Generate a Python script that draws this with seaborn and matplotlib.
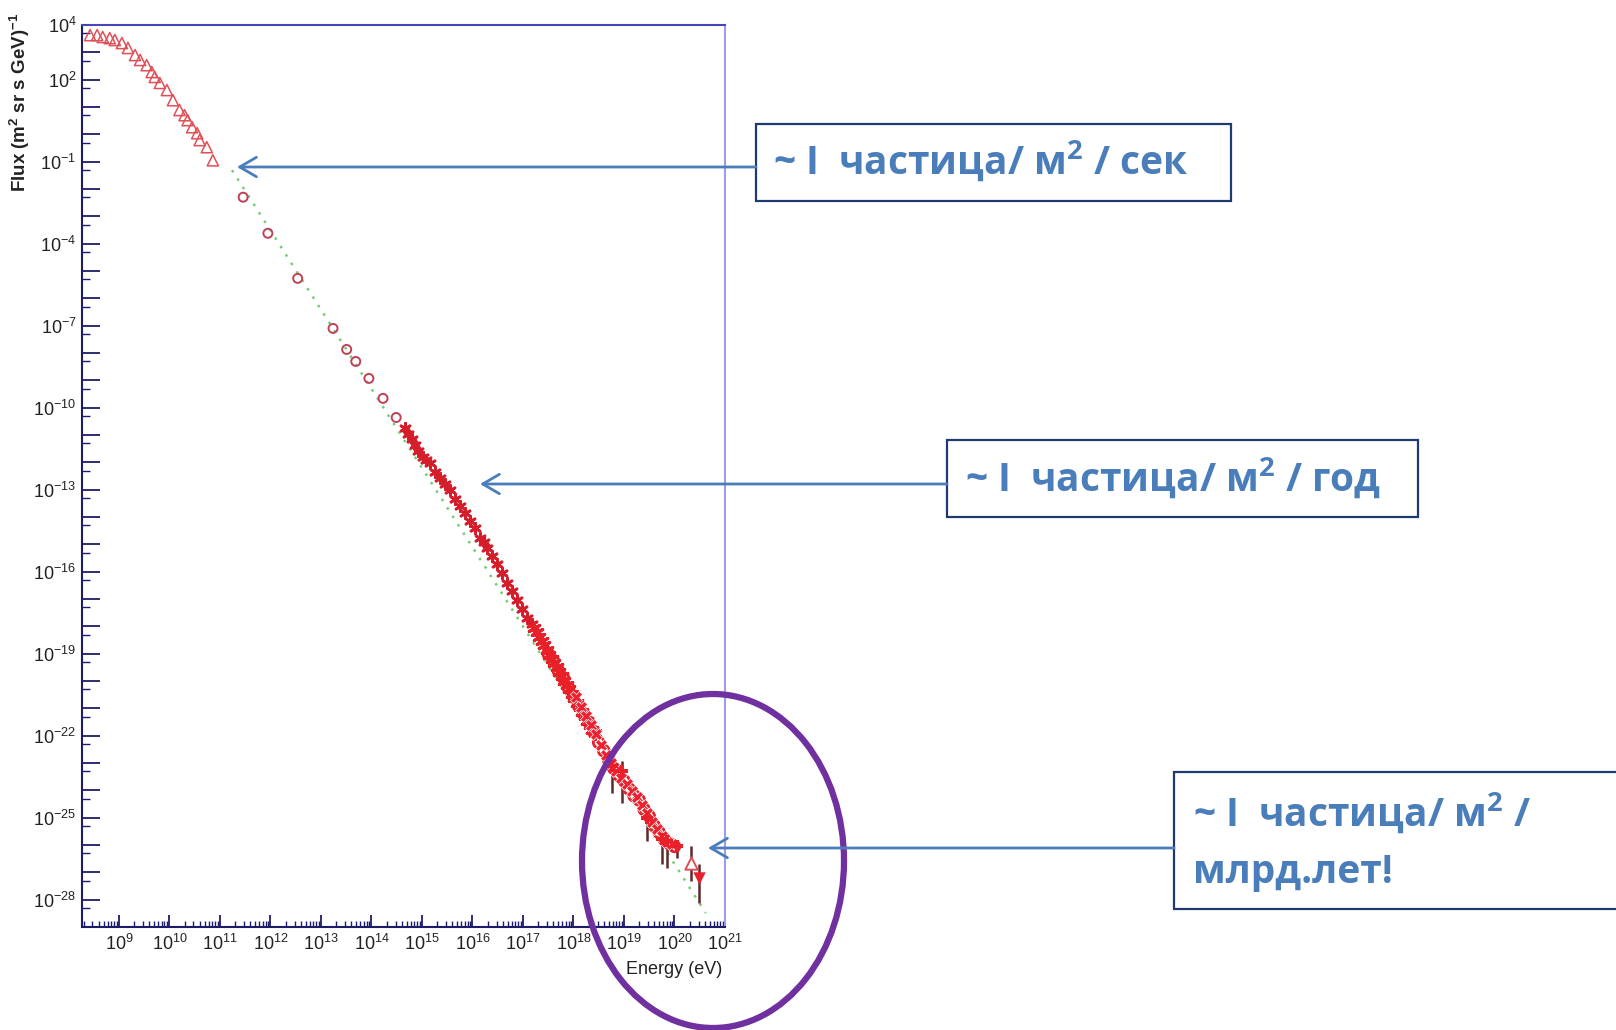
import numpy as np
import pandas as pd
import matplotlib
matplotlib.use("Agg")
import matplotlib.pyplot as plt
import seaborn as sns
from matplotlib.patches import Rectangle, Ellipse
from matplotlib.ticker import FixedLocator, FixedFormatter, LogLocator, NullFormatter

# ---- cosmic-ray spectrum data (log10 of energy in eV, log10 of flux) ----
tri_log_e = [8.43, 8.57, 8.68, 8.82, 8.92, 9.06, 9.18, 9.32, 9.42, 9.55, 9.65, 9.71,
             9.81, 9.95, 10.07, 10.20, 10.30, 10.36, 10.45, 10.55, 10.60, 10.74, 10.86]
tri_log_f = [3.63, 3.63, 3.56, 3.52, 3.45, 3.34, 3.16, 2.90, 2.72, 2.53, 2.28, 2.10,
             1.88, 1.62, 1.25, 0.89, 0.70, 0.52, 0.26, 0.04, -0.21, -0.47, -0.95]

circ_log_e = [11.46, 11.95, 12.54, 13.24, 13.51, 13.69, 13.95, 14.23, 14.49]
circ_log_f = [-2.30, -3.62, -5.27, -7.10, -7.87, -8.31, -8.93, -9.66, -10.36]

knee_log_e = [14.66, 14.73, 14.80, 14.86, 14.92, 15.02, 15.09, 15.16, 15.26, 15.36, 15.46,
              15.55, 15.65, 15.75, 15.85, 15.95, 16.05, 16.15, 16.22, 16.29, 16.39, 16.49,
              16.58, 16.68, 16.78, 16.88, 16.98, 17.08, 17.18]
knee_log_f = [-10.76, -10.95, -11.13, -11.35, -11.57, -11.82, -11.92, -12.04, -12.37, -12.56,
              -12.78, -13.03, -13.33, -13.58, -13.84, -14.13, -14.39, -14.75, -14.93, -15.12,
              -15.41, -15.71, -16.04, -16.40, -16.70, -17.03, -17.36, -17.68, -17.90]

ankle_a_log_e = [17.22, 17.27, 17.32, 17.37, 17.42, 17.47, 17.52, 17.57, 17.62, 17.67, 17.72,
                 17.77, 17.82, 17.87, 17.92, 17.97, 18.02, 18.07, 18.12, 18.17, 18.22, 18.27,
                 18.32, 18.37, 18.42]
ankle_a_log_f = [-18.05, -18.20, -18.40, -18.52, -18.70, -18.85, -19.05, -19.18, -19.35, -19.50,
                 -19.68, -19.82, -20.00, -20.15, -20.30, -20.48, -20.63, -20.80, -20.95, -21.12,
                 -21.28, -21.45, -21.60, -21.78, -21.92]

ankle_b_log_e = [17.50, 17.60, 17.70, 17.80, 17.90, 18.00, 18.10, 18.20, 18.30, 18.40, 18.50,
                 18.60, 18.70, 18.80, 18.90, 19.00, 19.10, 19.20, 19.30, 19.40, 19.50, 19.60,
                 19.70, 19.80, 19.90, 20.00]
ankle_b_log_f = [-19.00, -19.25, -19.62, -19.88, -20.25, -20.55, -20.90, -21.20, -21.50, -21.85,
                 -22.25, -22.55, -22.90, -23.20, -23.45, -23.65, -23.95, -24.20, -24.35, -24.70,
                 -24.95, -25.30, -25.55, -25.80, -25.95, -26.05]

ankle_c_log_e = [18.05, 18.15, 18.25, 18.35, 18.45, 18.55, 18.65, 18.75, 18.85, 18.95,
                 19.05, 19.15, 19.25, 19.35, 19.45, 19.55, 19.65, 19.75, 19.85, 19.95]
ankle_c_log_f = [-20.60, -20.95, -21.28, -21.62, -21.95, -22.35, -22.70, -23.00, -23.30, -23.55,
                 -23.78, -24.02, -24.25, -24.55, -24.82, -25.15, -25.42, -25.68, -25.88, -25.98]

# highest-energy points with vertical error bars
err_log_e = [18.76, 18.96, 19.46, 19.75, 19.85, 20.05]
err_log_f = [-23.11, -23.29, -25.01, -25.78, -25.85, -26.04]
err_log_lo = [-24.10, -24.46, -25.85, -26.70, -26.84, -26.48]
err_log_hi = [-22.95, -22.92, -24.80, -25.60, -25.74, -25.85]

open_tri_log_e, open_tri_log_f = [20.33], [-26.66]
open_tri_lo, open_tri_hi = [-27.32], [-26.04]
down_tri_log_e, down_tri_log_f = [20.49], [-27.21]
down_tri_lo, down_tri_hi = [-28.13], [-26.70]

# power-law guide line (end points)
guide_log_e = [11.24, 20.62]
guide_log_f = [-1.31, -28.49]

y_label_exponents = [4, 2, -1, -4, -7, -10, -13, -16, -19, -22, -25, -28]
x_label_exponents = list(range(9, 22))

annotations = [r"~ I  частица/ м$^{\mathregular{2}}$ / сек",
               r"~ I  частица/ м$^{\mathregular{2}}$ / год",
               r"~ I  частица/ м$^{\mathregular{2}}$ /",
               "млрд.лет!"]


def frame(le, lf):
    return pd.DataFrame({"E": 10.0 ** np.array(le), "F": 10.0 ** np.array(lf)})


sns.set_style("white")
plt.rcParams["font.family"] = ["Liberation Sans", "DejaVu Sans"]
plt.rcParams["mathtext.fontset"] = "custom"
plt.rcParams["mathtext.rm"] = "Liberation Sans"

W, H = 1616, 1030
fig = plt.figure(figsize=(W / 100, H / 100), dpi=100)
fig.patch.set_facecolor("white")

ax = fig.add_axes([82 / W, 1 - 927 / H, (725 - 82) / W, (927 - 25) / H])
ax.set_xscale("log")
ax.set_yscale("log")
ax.set_xlim(10 ** 8.27, 1e21)
ax.set_ylim(1e-29, 1e4)

# guide line
g = frame(guide_log_e, guide_log_f)
ax.plot(g["E"], g["F"], color="#70d070", lw=1.8, ls=(0, (1, 3)), zorder=1)

red = "#e8202a"
sns.scatterplot(data=frame(tri_log_e, tri_log_f), x="E", y="F", ax=ax, marker="^",
                s=65, facecolor="none", edgecolor="#e05058", linewidth=1.1, zorder=3)
sns.scatterplot(data=frame(circ_log_e, circ_log_f), x="E", y="F", ax=ax, marker="o",
                s=42, facecolor="none", edgecolor="#c04058", linewidth=1.4, zorder=3)
sns.scatterplot(data=frame(knee_log_e, knee_log_f), x="E", y="F", ax=ax, marker=(6, 2, 0),
                s=55, color="#d41e2c", linewidth=2.0, zorder=3)
sns.scatterplot(data=frame(ankle_a_log_e, ankle_a_log_f), x="E", y="F", ax=ax, marker=(6, 2, 0),
                s=75, color=red, linewidth=2.2, zorder=3)
sns.scatterplot(data=frame(ankle_b_log_e, ankle_b_log_f), x="E", y="F", ax=ax, marker="o",
                s=60, facecolor="none", edgecolor=red, linewidth=2.0, zorder=3)
sns.scatterplot(data=frame(ankle_c_log_e, ankle_c_log_f), x="E", y="F", ax=ax, marker="X",
                s=75, color="#f02030", linewidth=0.5, zorder=3)

# error bars
eb = frame(err_log_e, err_log_f)
ax.vlines(eb["E"], 10.0 ** np.array(err_log_lo), 10.0 ** np.array(err_log_hi),
          color="#5a2a2a", lw=1.8, zorder=2)
sns.scatterplot(data=eb, x="E", y="F", ax=ax, marker="P", s=75, color=red, linewidth=0, zorder=3)

ot = frame(open_tri_log_e, open_tri_log_f)
ax.vlines(ot["E"], 10.0 ** np.array(open_tri_lo), 10.0 ** np.array(open_tri_hi),
          color="#5a2a2a", lw=1.8, zorder=2)
sns.scatterplot(data=ot, x="E", y="F", ax=ax, marker="^", s=80, facecolor="white",
                edgecolor="#e05058", linewidth=1.4, zorder=3)

dt = frame(down_tri_log_e, down_tri_log_f)
ax.vlines(dt["E"], 10.0 ** np.array(down_tri_lo), 10.0 ** np.array(down_tri_hi),
          color="#5a2a2a", lw=1.8, zorder=2)
sns.scatterplot(data=dt, x="E", y="F", ax=ax, marker="v", s=80, color=red, linewidth=0, zorder=3)

ax.set_xlabel("")
ax.set_ylabel("")

# axis frame
ax.spines["left"].set_color("#1c1c6a")
ax.spines["bottom"].set_color("#1c1c6a")
ax.spines["top"].set_color("#4646b8")
ax.spines["right"].set_color("#9c9ce8")
for s in ax.spines.values():
    s.set_linewidth(1.5)

# ticks
ax.xaxis.set_major_locator(FixedLocator([10.0 ** e for e in x_label_exponents]))
ax.xaxis.set_major_formatter(FixedFormatter(
    [r"$\mathregular{10^{%d}}$" % e for e in x_label_exponents]))
ax.xaxis.set_minor_locator(LogLocator(base=10, subs=np.arange(2, 10), numticks=100))
ax.xaxis.set_minor_formatter(NullFormatter())

ax.yaxis.set_major_locator(FixedLocator([10.0 ** e for e in range(-28, 5)]))
ax.yaxis.set_major_formatter(FixedFormatter(
    [(r"$\mathregular{10^{%d}}$" % e if e in y_label_exponents else "") for e in range(-28, 5)]))
ax.yaxis.set_minor_locator(FixedLocator([5 * 10.0 ** (e - 1) for e in range(-28, 5)]))
ax.yaxis.set_minor_formatter(NullFormatter())

ax.tick_params(axis="x", which="major", direction="in", length=9, width=1.3,
               color="#1c1c6a", labelsize=13, labelcolor="#222222", pad=5,
               bottom=True, top=False)
ax.tick_params(axis="x", which="minor", direction="in", length=4, width=1.0,
               color="#1c1c6a", bottom=True, top=False)
ax.tick_params(axis="y", which="major", direction="in", length=13, width=1.3,
               color="#1c1c6a", labelsize=13, labelcolor="#222222", pad=4,
               left=True, right=False)
ax.tick_params(axis="y", which="minor", direction="in", length=6, width=1.0,
               color="#1c1c6a", left=True, right=False)

fig.text(20 / W, 1 - 13 / H, r"Flux (m$^{\mathregular{2}}$ sr s GeV)$^{\mathregular{-1}}$",
         rotation=90, ha="center", va="top", fontsize=13.5, fontweight="bold", color="#222222")
fig.text(722 / W, 1 - 969 / H, "Energy (eV)", ha="right", va="center",
         fontsize=13, color="#222222")

# ---- call-outs drawn in pixel coordinates ----
ov = fig.add_axes([0, 0, 1, 1], zorder=10)
ov.set_xlim(0, W)
ov.set_ylim(H, 0)
ov.axis("off")
ov.patch.set_alpha(0)

blue = "#4a7ebb"
navy = "#1f3a6e"
txt = dict(fontsize=28, fontweight="bold", color=blue, ha="left", va="center",
           family=["Open Sans", "DejaVu Sans"])
arrow = dict(arrowstyle="->,head_length=1.2,head_width=0.7", color=blue, lw=2,
             shrinkA=0, shrinkB=0)

ov.annotate("", xy=(237, 167), xytext=(756, 167), arrowprops=arrow)
ov.add_patch(Rectangle((756, 124), 475, 77, facecolor="white", edgecolor=navy, lw=1.6))
ov.text(773, 161, annotations[0], **txt)

ov.annotate("", xy=(480, 484), xytext=(947, 484), arrowprops=arrow)
ov.add_patch(Rectangle((947, 440), 471, 77, facecolor="white", edgecolor=navy, lw=1.6))
ov.text(965, 478, annotations[1], **txt)

ov.annotate("", xy=(708, 848), xytext=(1174, 848), arrowprops=arrow)
ov.add_patch(Rectangle((1174, 772), 480, 137, facecolor="white", edgecolor=navy, lw=1.6))
ov.text(1193, 813, annotations[2], **txt)
ov.text(1193, 873, annotations[3], **txt)

ov.add_patch(Ellipse((713, 861), 262, 334, fill=False, edgecolor="#7030a0", lw=4.5))

fig.savefig("out.png", dpi=100, facecolor="white")
